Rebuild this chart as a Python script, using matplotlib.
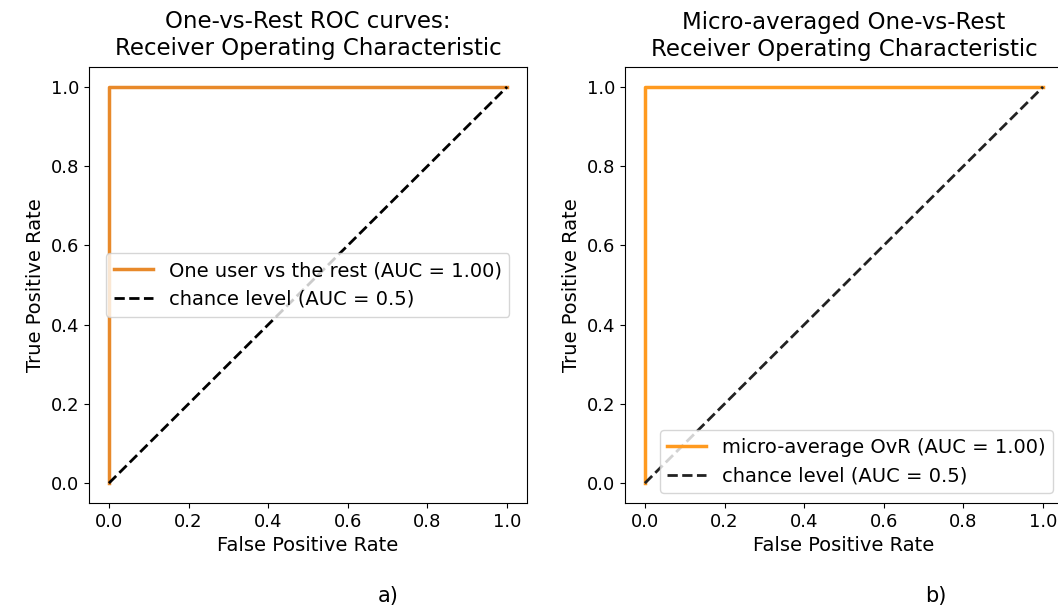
import matplotlib
matplotlib.use("Agg")
import matplotlib.pyplot as plt

# ROC points (one user vs the rest) and micro-average
fpr_user = [0.0, 0.0, 1.0]
tpr_user = [0.0, 1.0, 1.0]
fpr_micro = [0.0, 0.0, 1.0]
tpr_micro = [0.0, 1.0, 1.0]
chance = [0.0, 1.0]

ticks = [0.0, 0.2, 0.4, 0.6, 0.8, 1.0]

fig = plt.figure(figsize=(10.58, 6.08), dpi=100)
ax1 = fig.add_axes([0.0841, 0.1727, 0.414, 0.717])
ax2 = fig.add_axes([0.5907, 0.1727, 0.414, 0.717])

fs = 14

# a) one-vs-rest
ax1.plot(fpr_user, tpr_user, color="#e8892a", lw=2.5, label="One user vs the rest (AUC = 1.00)")
ax1.plot(chance, chance, "k--", lw=2, label="chance level (AUC = 0.5)")
ax1.set_title("One-vs-Rest ROC curves:\nReceiver Operating Characteristic", fontsize=16.5, pad=9)
ax1.legend(loc="center", fontsize=fs)

# b) micro-average
ax2.plot(fpr_micro, tpr_micro, color="#ff9a1f", lw=2.5, label="micro-average OvR (AUC = 1.00)")
ax2.plot(chance, chance, "--", color="#222222", lw=2, label="chance level (AUC = 0.5)")
ax2.set_title("Micro-averaged One-vs-Rest\nReceiver Operating Characteristic", fontsize=16.5, pad=8)
ax2.legend(loc="lower right", fontsize=fs)

for ax in (ax1, ax2):
    ax.set_xlim(-0.05, 1.05)
    ax.set_ylim(-0.05, 1.05)
    ax.set_xticks(ticks)
    ax.set_yticks(ticks)
    ax.tick_params(labelsize=13)
    ax.set_xlabel("False Positive Rate", fontsize=fs)
    ax.set_ylabel("True Positive Rate", fontsize=fs)

fig.text(0.357, 0.01, "a)", fontsize=15)
fig.text(0.874, 0.01, "b)", fontsize=15)

fig.savefig("out.png", dpi=100)
